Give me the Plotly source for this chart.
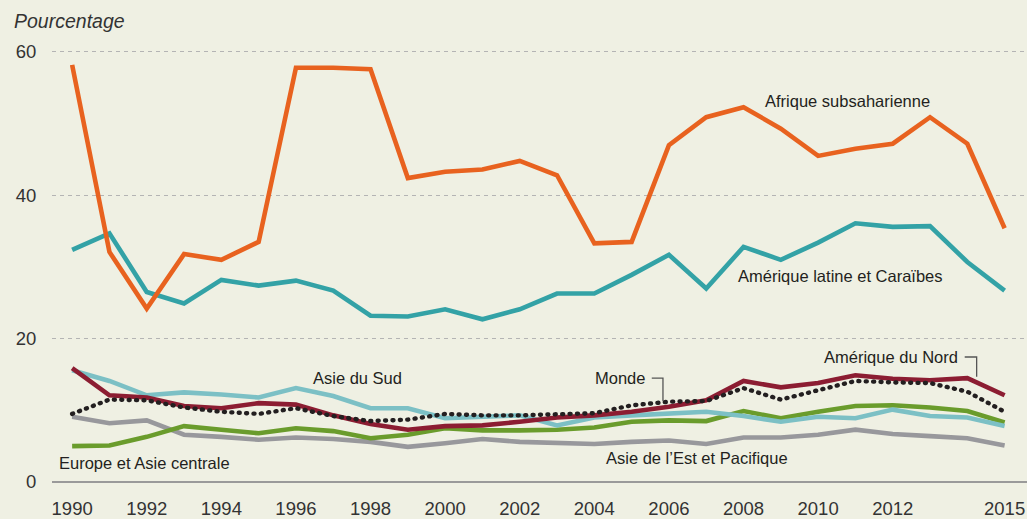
import plotly.graph_objects as go

years = list(range(1990, 2016))

afrique = [58.2, 32.1, 24.2, 31.8, 31.0, 33.5, 57.8, 57.8, 57.6, 42.4, 43.3, 43.6, 44.8,
           42.8, 33.3, 33.5, 47.0, 50.9, 52.3, 49.3, 45.5, 46.5, 47.2, 50.9, 47.2, 35.4]
amerique_latine = [32.4, 34.7, 26.5, 24.9, 28.2, 27.4, 28.1, 26.7, 23.2, 23.1, 24.1, 22.7, 24.1,
                   26.3, 26.3, 28.9, 31.7, 27.0, 32.8, 31.0, 33.4, 36.1, 35.6, 35.7, 30.7, 26.7]
amerique_nord = [15.9, 12.1, 11.8, 10.6, 10.3, 11.0, 10.8, 9.3, 8.1, 7.3, 7.8, 7.9, 8.4,
                 9.0, 9.3, 9.8, 10.5, 11.4, 14.1, 13.2, 13.8, 14.9, 14.4, 14.2, 14.5, 12.1]
monde = [9.5, 11.5, 11.4, 10.4, 9.8, 9.5, 10.3, 9.2, 8.5, 8.7, 9.5, 9.3, 9.3,
         9.5, 9.6, 10.7, 11.2, 11.3, 13.1, 11.5, 12.8, 14.1, 13.9, 13.8, 12.6, 9.8]
asie_sud = [15.6, 14.1, 12.1, 12.5, 12.2, 11.8, 13.1, 12.0, 10.3, 10.3, 8.9, 9.1, 9.3,
            7.9, 9.0, 9.3, 9.6, 9.8, 9.2, 8.4, 9.1, 8.9, 10.1, 9.2, 9.0, 7.8]
europe_asie_c = [5.0, 5.1, 6.3, 7.8, 7.3, 6.8, 7.5, 7.1, 6.1, 6.6, 7.5, 7.2, 7.2,
                 7.3, 7.6, 8.4, 8.6, 8.5, 9.9, 8.9, 9.8, 10.6, 10.7, 10.4, 9.9, 8.3]
asie_est = [9.1, 8.2, 8.6, 6.6, 6.3, 5.9, 6.2, 6.0, 5.6, 4.9, 5.4, 6.0, 5.6,
            5.4, 5.3, 5.6, 5.8, 5.3, 6.2, 6.2, 6.6, 7.3, 6.7, 6.4, 6.1, 5.1]

x_tickvals = [1990, 1992, 1994, 1996, 1998, 2000, 2002, 2004, 2006, 2008, 2010, 2012, 2015]
y_tickvals = [0, 20, 40, 60]

BG = "#eff0e3"
TXT = "#231f20"

series = [
    ("Asie de l’Est et Pacifique", asie_est, "#98989c", None),
    ("Europe et Asie centrale", europe_asie_c, "#6a9c2c", None),
    ("Asie du Sud", asie_sud, "#7cc0c5", None),
    ("Amérique du Nord", amerique_nord, "#8c1d32", None),
    ("Monde", monde, "#231f20", "1px,6.4px"),
    ("Amérique latine et Caraïbes", amerique_latine, "#33a2a6", None),
    ("Afrique subsaharienne", afrique, "#e8621f", None),
]

fig = go.Figure()
for name, vals, color, dash in series:
    line = dict(color=color, width=4.6 if dash is None else 4.4)
    if dash:
        line["dash"] = dash
    fig.add_trace(go.Scatter(x=years, y=vals, mode="lines", name=name, line=line,
                             hoverinfo="skip"))

ann_font = dict(family="Liberation Sans, Arial, sans-serif", size=16.5, color=TXT)
labels = [
    ("Afrique subsaharienne", 2010.78, 53.2, "center"),
    ("Amérique latine et Caraïbes", 2010.6, 28.7, "center"),
    ("Asie du Sud", 1997.65, 14.5, "center"),
    ("Europe et Asie centrale", 1989.6, 2.65, "left"),
    ("Monde", 2005.4, 14.5, "right"),
    ("Asie de l’Est et Pacifique", 2006.76, 3.35, "center"),
    ("Amérique du Nord", 2013.8, 17.44, "right"),
]
for text, x, y, anchor in labels:
    fig.add_annotation(x=x, y=y, text=text, showarrow=False, xanchor=anchor,
                       yanchor="middle", font=ann_font)

# leader lines
fig.add_shape(type="path", path="M 2005.54 14.5 L 2005.84 14.5 L 2005.84 11.3",
              line=dict(color="#555555", width=1.3), xref="x", yref="y")
fig.add_shape(type="path", path="M 2013.93 17.44 L 2014.25 17.44 L 2014.25 14.7",
              line=dict(color="#555555", width=1.3), xref="x", yref="y")

fig.add_annotation(x=(12 - 52) / (1027 - 52), y=(482 - 21) / (482 - 38),
                   xref="paper", yref="paper", text="<i>Pourcentage</i>",
                   showarrow=False, xanchor="left", yanchor="middle",
                   font=dict(family="Liberation Sans, Arial, sans-serif", size=19.5, color="#333333"))

fig.update_layout(
    width=1027, height=519,
    margin=dict(l=52, r=0, t=38, b=37),
    paper_bgcolor=BG, plot_bgcolor=BG,
    showlegend=False,
    xaxis=dict(range=[1989.46, 2015.6], tickvals=x_tickvals, showgrid=False,
               zeroline=False, showline=False, ticks="outside", ticklen=10,
               tickcolor="rgba(0,0,0,0)", automargin=False,
               tickfont=dict(family="Liberation Sans Narrow, Arial Narrow, sans-serif",
                             size=18.5, color="#333333")),
    yaxis=dict(range=[0, 61.95], tickvals=y_tickvals, showgrid=True,
               gridcolor="#b4b4b4", gridwidth=1.4, griddash="4px,4px",
               zeroline=True, zerolinecolor="#9a9a9a", zerolinewidth=1.5,
               showline=False, ticks="outside", ticklen=11, tickcolor="rgba(0,0,0,0)",
               automargin=False,
               tickfont=dict(family="Liberation Sans, Arial, sans-serif",
                             size=18.5, color="#333333")),
)

post = """
document.documentElement.style.margin = '0';
document.documentElement.style.padding = '0';
document.body.style.margin = '0';
document.body.style.padding = '0';
document.body.style.overflow = 'hidden';
document.body.style.background = '#eff0e3';
document.querySelectorAll('path.js-line').forEach(function(p){
  var d = p.style.strokeDasharray;
  if (d && d !== 'none') { p.style.strokeLinecap = 'round'; }
});
"""
fig.write_html("out.html", post_script=post, config={"displayModeBar": False})
